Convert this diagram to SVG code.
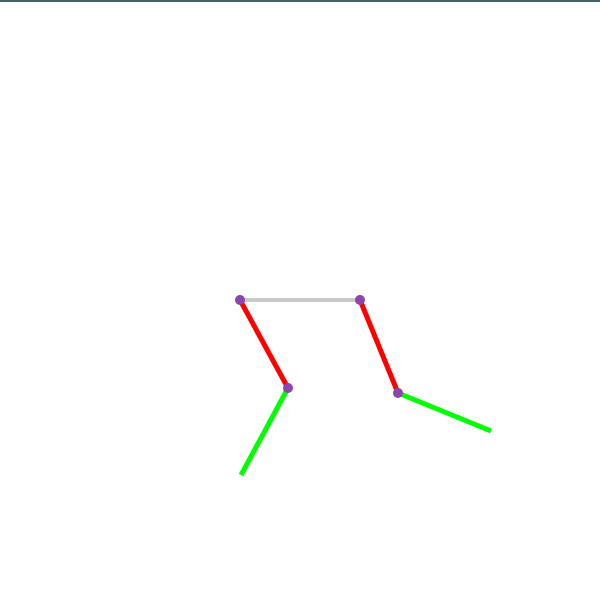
<svg xmlns="http://www.w3.org/2000/svg" width="600" height="601" viewBox="0 0 600 601">
<style>
.seg{stroke-width:5;stroke-linecap:butt;fill:none}
.red{stroke:#ff0000}
.green{stroke:#00ff00}
.gray{stroke:#c8c8c8;stroke-width:4}
.joint{fill:#8e44ad}
</style>
<rect x="0" y="0" width="600" height="601" fill="#ffffff"/>
<rect x="0" y="0" width="600" height="2" fill="#1a3a40" opacity="0.8"/>
<g id="connectors">
<line class="seg gray" x1="240" y1="300" x2="360" y2="300"/>
<line class="seg red" x1="240" y1="300" x2="288" y2="388"/>
<line class="seg green" x1="288" y1="388" x2="241" y2="475"/>
<line class="seg red" x1="360" y1="300" x2="398" y2="393"/>
<line class="seg green" x1="398" y1="393" x2="491" y2="431"/>
</g>
<g id="joint-a"><circle class="joint" cx="240" cy="300" r="5"/></g>
<g id="joint-b"><circle class="joint" cx="360" cy="300" r="5"/></g>
<g id="joint-c"><circle class="joint" cx="288" cy="388" r="5"/></g>
<g id="joint-d"><circle class="joint" cx="398" cy="393" r="5"/></g>
</svg>
